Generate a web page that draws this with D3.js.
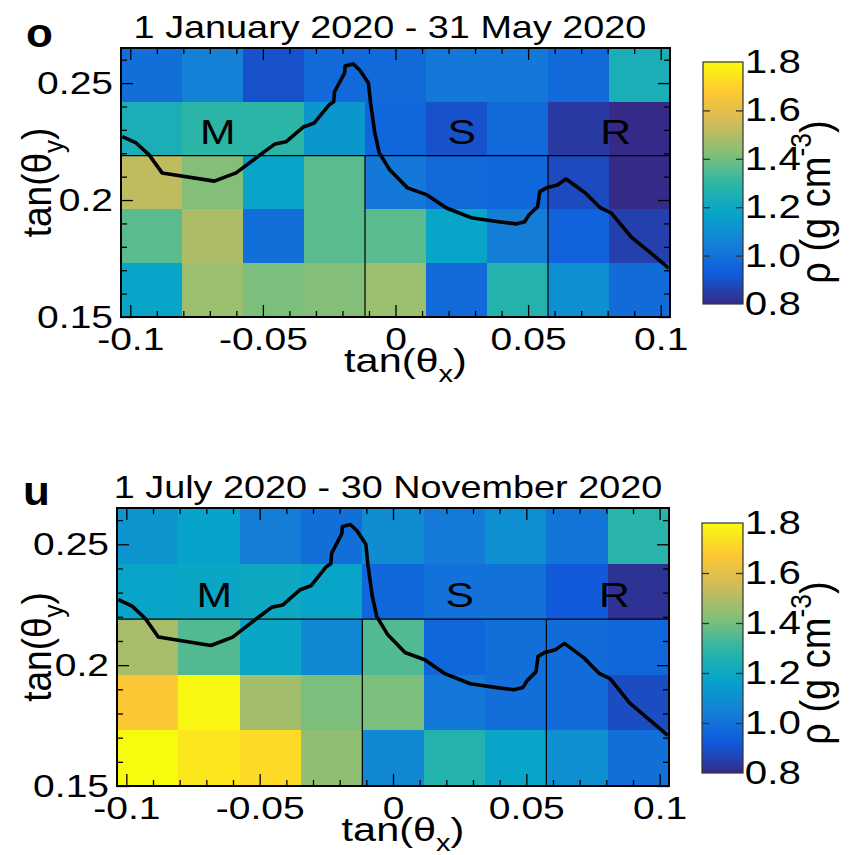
<!DOCTYPE html>
<html><head><meta charset="utf-8">
<script src="https://cdn.jsdelivr.net/npm/d3@7"></script>
<style>body{margin:0;background:#fff}svg{display:block}</style>
</head><body>
<svg id="chart" width="851" height="855"></svg>
<script>
// ---------------- data ----------------
const tanThetaXBins = [-0.092, -0.069, -0.046, -0.023, 0.0, 0.023, 0.046, 0.069, 0.092];
const tanThetaYBins = [0.2535, 0.2305, 0.2075, 0.1845, 0.1615]; // top row first
const binWidth = 0.023;

// density rho (g cm^-3), rows listed top (largest tan(theta_y)) to bottom
const densityJanMay = [
  [0.99, 1.05, 0.90, 0.97, 0.97, 1.02, 1.02, 0.97, 1.24],
  [1.24, 1.29, 1.29, 1.13, 0.96, 0.90, 0.97, 0.84, 0.79],
  [1.52, 1.42, 1.18, 1.36, 1.02, 0.97, 0.96, 0.88, 0.79],
  [1.36, 1.49, 0.99, 1.36, 1.36, 1.18, 1.04, 0.95, 0.855],
  [1.18, 1.46, 1.41, 1.42, 1.46, 0.97, 1.27, 1.10, 0.98]
];
const densityJulNov = [
  [1.12, 1.17, 1.04, 0.99, 1.09, 1.03, 1.10, 1.01, 1.28],
  [1.18, 1.19, 1.20, 1.18, 0.96, 1.00, 1.00, 0.92, 0.82],
  [1.48, 1.35, 1.19, 1.07, 1.35, 0.96, 0.99, 0.98, 0.96],
  [1.67, 1.79, 1.47, 1.41, 1.41, 1.02, 0.99, 0.98, 0.885],
  [1.80, 1.75, 1.72, 1.44, 1.07, 1.27, 1.18, 1.10, 0.99]
];

const xTickValues = [-0.1, -0.05, 0, 0.05, 0.1];
const xTickLabels = ["-0.1", "-0.05", "0", "0.05", "0.1"];
const yTickValues = [0.15, 0.2, 0.25];
const yTickLabels = ["0.15", "0.2", "0.25"];
const zTickValues = [0.8, 1.0, 1.2, 1.4, 1.6, 1.8];
const zTickLabels = ["0.8", "1.0", "1.2", "1.4", "1.6", "1.8"];

// mountain profile outline (tan theta_x, tan theta_y)
const profileTanX = [-0.1030, -0.0978, -0.0929, -0.0880, -0.0683, -0.0601, -0.0511, -0.0454, -0.0413, -0.0348,
  -0.0307, -0.0251, -0.0233, -0.0230, -0.0192, -0.0190, -0.0160, -0.0135, -0.0102, -0.0094, -0.0078, -0.0061,
  -0.0021, 0.0045, 0.0119, 0.0192, 0.0290, 0.0389, 0.0454, 0.0487, 0.0503, 0.0536, 0.0544, 0.0569, 0.0610,
  0.0643, 0.0716, 0.0773, 0.0814, 0.0888, 0.0962, 0.1030];
const profileTanY = [0.2271, 0.2244, 0.2193, 0.2116, 0.2081, 0.2116, 0.2193, 0.2240, 0.2249, 0.2312,
  0.2329, 0.2406, 0.2420, 0.2463, 0.2543, 0.2573, 0.2582, 0.2556, 0.2500, 0.2415, 0.2287, 0.2201,
  0.2128, 0.2052, 0.2022, 0.1966, 0.1923, 0.1907, 0.1898, 0.1907, 0.1936, 0.1972, 0.2036, 0.2052, 0.2064,
  0.2090, 0.2030, 0.1966, 0.1944, 0.1843, 0.1774, 0.1709];

const regionNames = ["M", "S", "R"];
const regionTanX = [-0.067, 0.025, 0.083];
const regionTanY = 0.224;
const regionBoundaryY = 0.219;
const regionBoundaryX = [-0.0115, 0.0575];

const panelLetters = ["o", "u"];
const panelTitles = ["1 January 2020 - 31 May 2020", "1 July 2020 - 30 November 2020"];

// ROOT kBird palette
const birdStops = [0, 0.125, 0.25, 0.375, 0.5, 0.625, 0.75, 0.875, 1];
const birdR = [0.2082, 0.0592, 0.0780, 0.0232, 0.1802, 0.5301, 0.8186, 0.9956, 0.9764];
const birdG = [0.1664, 0.3599, 0.5041, 0.6419, 0.7178, 0.7492, 0.7328, 0.7862, 0.9832];
const birdB = [0.5293, 0.8684, 0.8385, 0.7914, 0.6425, 0.4662, 0.3499, 0.1968, 0.0539];

// ---------------- drawing ----------------
const FONT = "'Liberation Sans', Arial, Helvetica, sans-serif";
const SX = 1.22;
const zMin = 0.8, zMax = 1.8;
const color = d3.scaleLinear()
  .domain(birdStops.map(s => zMin + s * (zMax - zMin)))
  .range(birdStops.map((s, i) => d3.rgb(birdR[i] * 255, birdG[i] * 255, birdB[i] * 255).toString()))
  .interpolate(d3.interpolateRgb)
  .clamp(true);

const svg = d3.select("#chart");
svg.append("rect").attr("width", 851).attr("height", 855).attr("fill", "#fff");

const defs = svg.append("defs");
const grad = defs.append("linearGradient").attr("id", "zgrad")
  .attr("x1", 0).attr("y1", 1).attr("x2", 0).attr("y2", 0);
d3.range(0, 1.0001, 0.02).forEach(f => {
  grad.append("stop").attr("offset", f).attr("stop-color", color(zMin + f * (zMax - zMin)));
});

function addText(parent, x, y, parts, o = {}) {
  const size = o.size || 32, sx = o.sx || SX;
  const g = parent.append("g")
    .attr("transform", `translate(${x},${y}) scale(${sx},1)` + (o.rotate ? ` rotate(${o.rotate})` : ""));
  const t = g.append("text").attr("font-family", FONT).attr("font-size", size)
    .attr("text-anchor", o.anchor || "middle").attr("font-weight", o.weight || "normal").attr("fill", "#000");
  let cur = 0;
  parts.forEach(p => {
    let target = 0, txt = p, fs = null;
    if (typeof p === "object") {
      if (p.sub !== undefined) { target = size * 0.3; txt = p.sub; fs = size * 0.7; }
      if (p.sup !== undefined) { target = -size * 0.45; txt = p.sup; fs = size * 0.7; }
    }
    const ts = t.append("tspan").attr("dy", target - cur).text(txt);
    if (fs) ts.attr("font-size", fs);
    cur = target;
  });
  return g;
}

const panels = [
  { data: densityJanMay, plot: { x0: 121, x1: 670, y0: 48, y1: 317 }, cbar: { x0: 703, x1: 743, y0: 62, y1: 304 },
    letter: [26, 47], title: [390, 38], cbTitle: [830, 202] },
  { data: densityJulNov, plot: { x0: 117, x1: 669, y0: 508, y1: 786 }, cbar: { x0: 702, x1: 743, y0: 523, y1: 773 },
    letter: [23, 505], title: [388, 498], cbTitle: [830, 663] }
];

const xMinor = d3.range(-10, 11).map(i => i / 100).filter(v => !xTickValues.some(m => Math.abs(m - v) < 1e-9));
const yMinor = d3.range(15, 27).map(i => i / 100).filter(v => !yTickValues.some(m => Math.abs(m - v) < 1e-9));

function styleAxis(g) {
  g.select(".domain").remove();
  g.selectAll(".tick line").attr("stroke", "#000").attr("stroke-width", 1.3);
  g.selectAll("text").attr("font-family", FONT).attr("fill", "#000");
}

panels.forEach((P, pi) => {
  const { x0, x1, y0, y1 } = P.plot;
  const g = svg.append("g");
  const x = d3.scaleLinear().domain([-0.1035, 0.1035]).range([x0, x1]);
  const y = d3.scaleLinear().domain([0.15, 0.265]).range([y1, y0]);

  const clipId = "clip" + pi;
  defs.append("clipPath").attr("id", clipId).append("rect")
    .attr("x", x0).attr("y", y0).attr("width", x1 - x0).attr("height", y1 - y0);

  // cells
  const cells = [];
  P.data.forEach((row, r) => row.forEach((v, c) => cells.push({ cx: tanThetaXBins[c], cy: tanThetaYBins[r], v })));
  g.append("g").attr("shape-rendering", "crispEdges").selectAll("rect").data(cells).join("rect")
    .attr("x", d => x(d.cx - binWidth / 2))
    .attr("y", d => y(d.cy + binWidth / 2))
    .attr("width", d => x(d.cx + binWidth / 2) - x(d.cx - binWidth / 2) + 0.5)
    .attr("height", d => y(d.cy - binWidth / 2) - y(d.cy + binWidth / 2) + 0.5)
    .attr("fill", d => color(d.v));

  // region boundaries
  const rb = g.append("g").attr("stroke", "#000").attr("stroke-width", 1.2);
  rb.append("line").attr("x1", x0).attr("x2", x1).attr("y1", y(regionBoundaryY)).attr("y2", y(regionBoundaryY));
  regionBoundaryX.forEach(bx => rb.append("line").attr("x1", x(bx)).attr("x2", x(bx))
    .attr("y1", y(regionBoundaryY)).attr("y2", y1));

  // profile curve
  const pts = profileTanX.map((v, i) => [v, profileTanY[i]]);
  g.append("path").attr("clip-path", `url(#${clipId})`)
    .attr("d", d3.line().x(d => x(d[0])).y(d => y(d[1]))(pts))
    .attr("fill", "none").attr("stroke", "#000").attr("stroke-width", 3.6).attr("stroke-linejoin", "round");

  // region labels
  regionNames.forEach((n, i) => addText(g, x(regionTanX[i]), y(regionTanY), [n], { size: 35 }));

  // axes (ticks inside, all four sides)
  const bottomMinor = g.append("g").attr("transform", `translate(0,${y1})`)
    .call(d3.axisBottom(x).tickValues(xMinor).tickSize(-6).tickFormat(""));
  styleAxis(bottomMinor);
  const bottom = g.append("g").attr("transform", `translate(0,${y1})`)
    .call(d3.axisBottom(x).tickValues(xTickValues).tickSize(-12).tickPadding(10)
      .tickFormat((d, i) => xTickLabels[i]));
  styleAxis(bottom);
  bottom.selectAll("text").attr("font-size", 32).attr("transform", `scale(${SX},1)`);

  const topMinor = g.append("g").attr("transform", `translate(0,${y0})`)
    .call(d3.axisTop(x).tickValues(xMinor).tickSize(-6).tickFormat(""));
  styleAxis(topMinor);
  const topMajor = g.append("g").attr("transform", `translate(0,${y0})`)
    .call(d3.axisTop(x).tickValues(xTickValues).tickSize(-12).tickFormat(""));
  styleAxis(topMajor);

  const leftMinor = g.append("g").attr("transform", `translate(${x0},0)`)
    .call(d3.axisLeft(y).tickValues(yMinor).tickSize(-6).tickFormat(""));
  styleAxis(leftMinor);
  const left = g.append("g").attr("transform", `translate(${x0},0)`)
    .call(d3.axisLeft(y).tickValues(yTickValues).tickSize(-12).tickPadding(6.5)
      .tickFormat((d, i) => yTickLabels[i]));
  styleAxis(left);
  left.selectAll("text").attr("font-size", 32).attr("transform", `scale(${SX},1)`);

  const rightMinor = g.append("g").attr("transform", `translate(${x1},0)`)
    .call(d3.axisRight(y).tickValues(yMinor).tickSize(-6).tickFormat(""));
  styleAxis(rightMinor);
  const rightMajor = g.append("g").attr("transform", `translate(${x1},0)`)
    .call(d3.axisRight(y).tickValues(yTickValues).tickSize(-12).tickFormat(""));
  styleAxis(rightMajor);

  // frame
  g.append("rect").attr("x", x0).attr("y", y0).attr("width", x1 - x0).attr("height", y1 - y0)
    .attr("fill", "none").attr("stroke", "#000").attr("stroke-width", 2);

  // axis titles
  addText(g, (x0 + x1) / 2 + 10, y1 + 55, ["tan(\u03b8", { sub: "x" }, ")"], { size: 34 });
  addText(g, 51, (y0 + y1) / 2, ["tan(\u03b8", { sub: "y" }, ")"], { size: 37, rotate: -90, sx: 1.1 });

  // title and panel letter
  addText(g, P.title[0], P.title[1], [panelTitles[pi]], { size: 31 });
  addText(g, P.letter[0], P.letter[1], [panelLetters[pi]], { size: 40, weight: "bold", anchor: "start", sx: 1.1 });

  // colour bar
  const cb = P.cbar;
  const z = d3.scaleLinear().domain([zMin, zMax]).range([cb.y1, cb.y0]);
  g.append("rect").attr("x", cb.x0).attr("y", cb.y0).attr("width", cb.x1 - cb.x0).attr("height", cb.y1 - cb.y0)
    .attr("fill", "url(#zgrad)").attr("stroke", "#333").attr("stroke-width", 1.2);
  const zInner = zTickValues.slice(1, -1);
  const zl = g.append("g").attr("transform", `translate(${cb.x0},0)`)
    .call(d3.axisLeft(z).tickValues(zInner).tickSize(-7).tickFormat(""));
  styleAxis(zl);
  zl.selectAll(".tick line").attr("stroke", "#333");
  const zr = g.append("g").attr("transform", `translate(${cb.x1},0)`)
    .call(d3.axisRight(z).tickValues(zInner).tickSize(-7).tickFormat(""));
  styleAxis(zr);
  zr.selectAll(".tick line").attr("stroke", "#333");
  const zlab = g.append("g").attr("transform", `translate(${cb.x1},0)`)
    .call(d3.axisRight(z).tickValues(zTickValues).tickSize(0).tickPadding(1.5)
      .tickFormat((d, i) => zTickLabels[i]));
  styleAxis(zlab);
  zlab.selectAll("text").attr("font-size", 33).attr("transform", `scale(${SX},1)`);

  addText(g, P.cbTitle[0], P.cbTitle[1], ["\u03c1 (g cm", { sup: "-3" }, ")"], { size: 38, rotate: -90, sx: 1.1 });
});
</script>
</body></html>
